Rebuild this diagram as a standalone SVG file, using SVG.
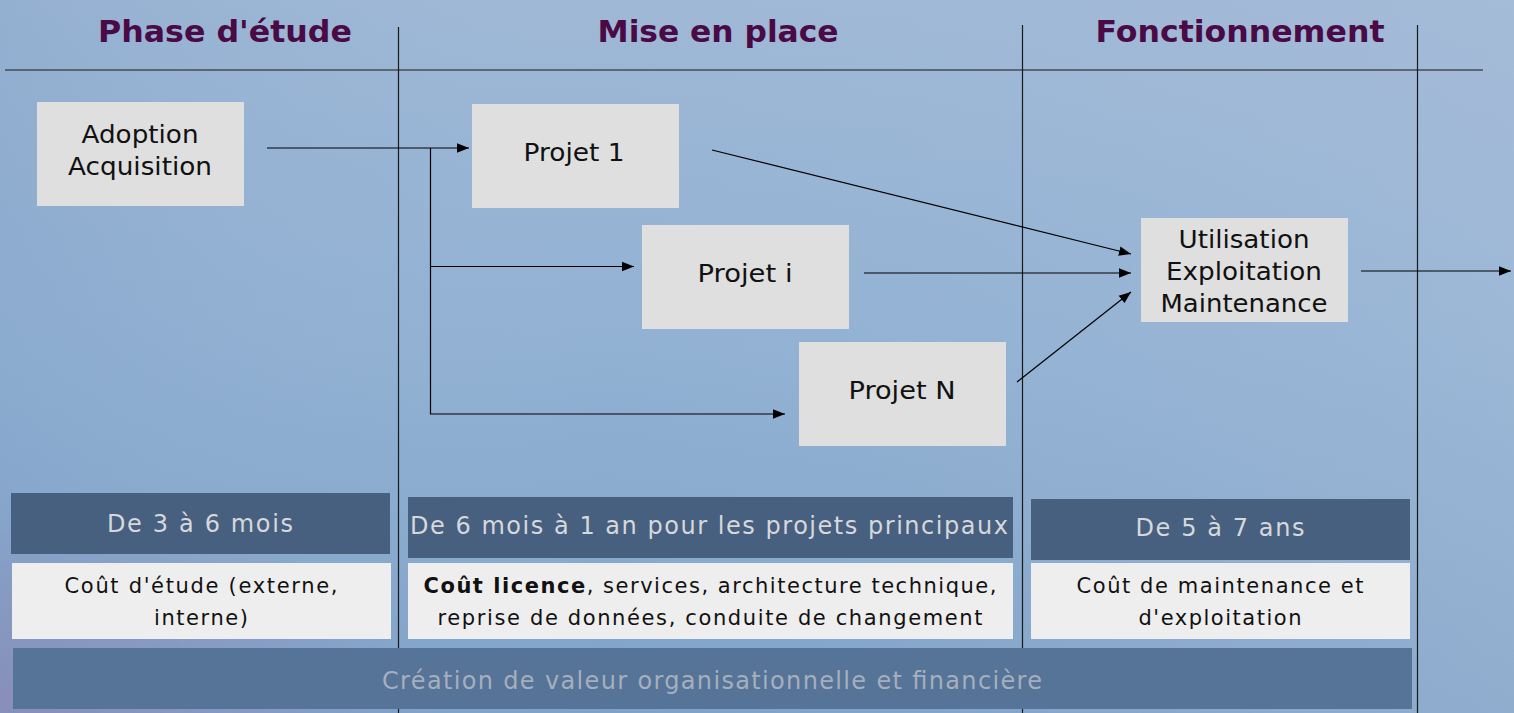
<svg xmlns="http://www.w3.org/2000/svg" width="1514" height="713" viewBox="0 0 1514 713">
<defs>
<linearGradient id="bg" x1="0" y1="0" x2="0" y2="1">
<stop offset="0" stop-color="#9fb8d6"/>
<stop offset="0.5" stop-color="#91b1d3"/>
<stop offset="1" stop-color="#7fa2c7"/>
</linearGradient>
<linearGradient id="bgh" x1="0" y1="0" x2="1" y2="0">
<stop offset="0" stop-color="#7f9fc6" stop-opacity="0.35"/>
<stop offset="0.4" stop-color="#9fb9d8" stop-opacity="0"/>
<stop offset="1" stop-color="#b0c2dc" stop-opacity="0.35"/>
</linearGradient>
<radialGradient id="purp" cx="0" cy="1" r="0.3">
<stop offset="0" stop-color="#8c86b4" stop-opacity="0.7"/>
<stop offset="1" stop-color="#8c86b4" stop-opacity="0"/>
</radialGradient>
<marker id="arr" markerUnits="userSpaceOnUse" markerWidth="13" markerHeight="11" refX="12" refY="5.5" orient="auto">
<path d="M0,0.8 L12,5.5 L0,10.2 z" fill="#000"/>
</marker>
<style>
.hdr{font-family:"DejaVu Sans","Liberation Sans",sans-serif;font-weight:bold;font-size:31px;fill:#4a0a46;text-anchor:middle}
.node rect{fill:#dfdfdf}
.nt{font-family:"DejaVu Sans","Liberation Sans",sans-serif;font-size:25.5px;fill:#111;text-anchor:middle}
.dark{fill:#47607f}
.light{fill:#eeeeee}
.long{fill:#567398}
.dt{font-family:"DejaVu Sans","Liberation Sans",sans-serif;font-size:24px;fill:#d6d8dc;text-anchor:middle}
.lt{font-family:"DejaVu Sans","Liberation Sans",sans-serif;font-size:21px;fill:#111;text-anchor:middle}
.ft{font-family:"DejaVu Sans","Liberation Sans",sans-serif;font-size:24px;fill:#a6afbd;text-anchor:middle}
.grid{stroke:#1a1a1a;stroke-width:1.2;fill:none}
.conn path{stroke:#000;stroke-width:1.2;fill:none;marker-end:url(#arr)}
</style>
</defs>
<rect width="1514" height="713" fill="url(#bg)"/>
<rect width="1514" height="713" fill="url(#bgh)"/>
<rect width="1514" height="713" fill="url(#purp)"/>

<g id="grid">
<line x1="5" y1="70" x2="1483" y2="70" style="stroke:#444c56;stroke-width:1.6"/>
<line class="grid" x1="398.5" y1="27" x2="398.5" y2="713"/>
<line class="grid" x1="1022.5" y1="25" x2="1022.5" y2="713"/>
<line class="grid" x1="1417.5" y1="25" x2="1417.5" y2="713"/>
</g>

<g id="headers">
<text class="hdr" x="225" y="42" textLength="254" lengthAdjust="spacingAndGlyphs">Phase d'étude</text>
<text class="hdr" x="718" y="42" textLength="241" lengthAdjust="spacingAndGlyphs">Mise en place</text>
<text class="hdr" x="1240" y="42" textLength="289" lengthAdjust="spacingAndGlyphs">Fonctionnement</text>
</g>

<g class="conn" id="connectors">
<path d="M267,148 H469"/>
<path d="M430.5,148 V414 H785"/>
<path d="M430.5,266.5 H634"/>
<path d="M712,150 L1131,254"/>
<path d="M864,273 H1131"/>
<path d="M1017,382 L1131,292"/>
<path d="M1361,271 H1511"/>
</g>

<g class="node" id="adoption">
<rect x="37" y="102" width="207" height="104"/>
<text class="nt" x="140" y="143" textLength="117" lengthAdjust="spacingAndGlyphs">Adoption</text>
<text class="nt" x="140" y="175" textLength="144" lengthAdjust="spacingAndGlyphs">Acquisition</text>
</g>
<g class="node" id="projet1">
<rect x="472" y="104" width="207" height="104"/>
<text class="nt" x="574" y="161" textLength="101" lengthAdjust="spacingAndGlyphs">Projet 1</text>
</g>
<g class="node" id="projeti">
<rect x="642" y="225" width="207" height="104"/>
<text class="nt" x="745" y="282" textLength="95" lengthAdjust="spacingAndGlyphs">Projet i</text>
</g>
<g class="node" id="projetN">
<rect x="799" y="342" width="207" height="104"/>
<text class="nt" x="902" y="399" textLength="107" lengthAdjust="spacingAndGlyphs">Projet N</text>
</g>
<g class="node" id="utilisation">
<rect x="1141" y="218" width="207" height="104"/>
<text class="nt" x="1244" y="248" textLength="131" lengthAdjust="spacingAndGlyphs">Utilisation</text>
<text class="nt" x="1244" y="280" textLength="156" lengthAdjust="spacingAndGlyphs">Exploitation</text>
<text class="nt" x="1244" y="312" textLength="167" lengthAdjust="spacingAndGlyphs">Maintenance</text>
</g>

<g id="duree1">
<rect class="dark" x="11" y="493" width="379" height="61"/>
<text class="dt" x="200" y="532" textLength="186" lengthAdjust="spacing">De 3 à 6 mois</text>
</g>
<g id="cout1">
<rect class="light" x="12" y="563" width="379" height="76"/>
<text class="lt" x="201" y="593" textLength="273" lengthAdjust="spacing">Coût d'étude (externe,</text>
<text class="lt" x="201" y="625" textLength="94" lengthAdjust="spacing">interne)</text>
</g>
<g id="duree2">
<rect class="dark" x="408" y="497" width="605" height="61"/>
<text class="dt" x="709" y="534" textLength="598" lengthAdjust="spacing">De 6 mois à 1 an pour les projets principaux</text>
</g>
<g id="cout2">
<rect class="light" x="408" y="563" width="605" height="76"/>
<text class="lt" x="710" y="593" textLength="573" lengthAdjust="spacing"><tspan font-weight="bold">Coût licence</tspan>, services, architecture technique,</text>
<text class="lt" x="710" y="625" textLength="545" lengthAdjust="spacing">reprise de données, conduite de changement</text>
</g>
<g id="duree3">
<rect class="dark" x="1031" y="499" width="379" height="61"/>
<text class="dt" x="1220" y="536" textLength="169" lengthAdjust="spacing">De 5 à 7 ans</text>
</g>
<g id="cout3">
<rect class="light" x="1031" y="563" width="379" height="76"/>
<text class="lt" x="1220" y="593" textLength="287" lengthAdjust="spacing">Coût de maintenance et</text>
<text class="lt" x="1220" y="625" textLength="163" lengthAdjust="spacing">d'exploitation</text>
</g>
<g id="valeur">
<rect class="long" x="13" y="648" width="1399" height="61"/>
<text class="ft" x="712" y="689" textLength="660" lengthAdjust="spacing">Création de valeur organisationnelle et financière</text>
</g>
</svg>
